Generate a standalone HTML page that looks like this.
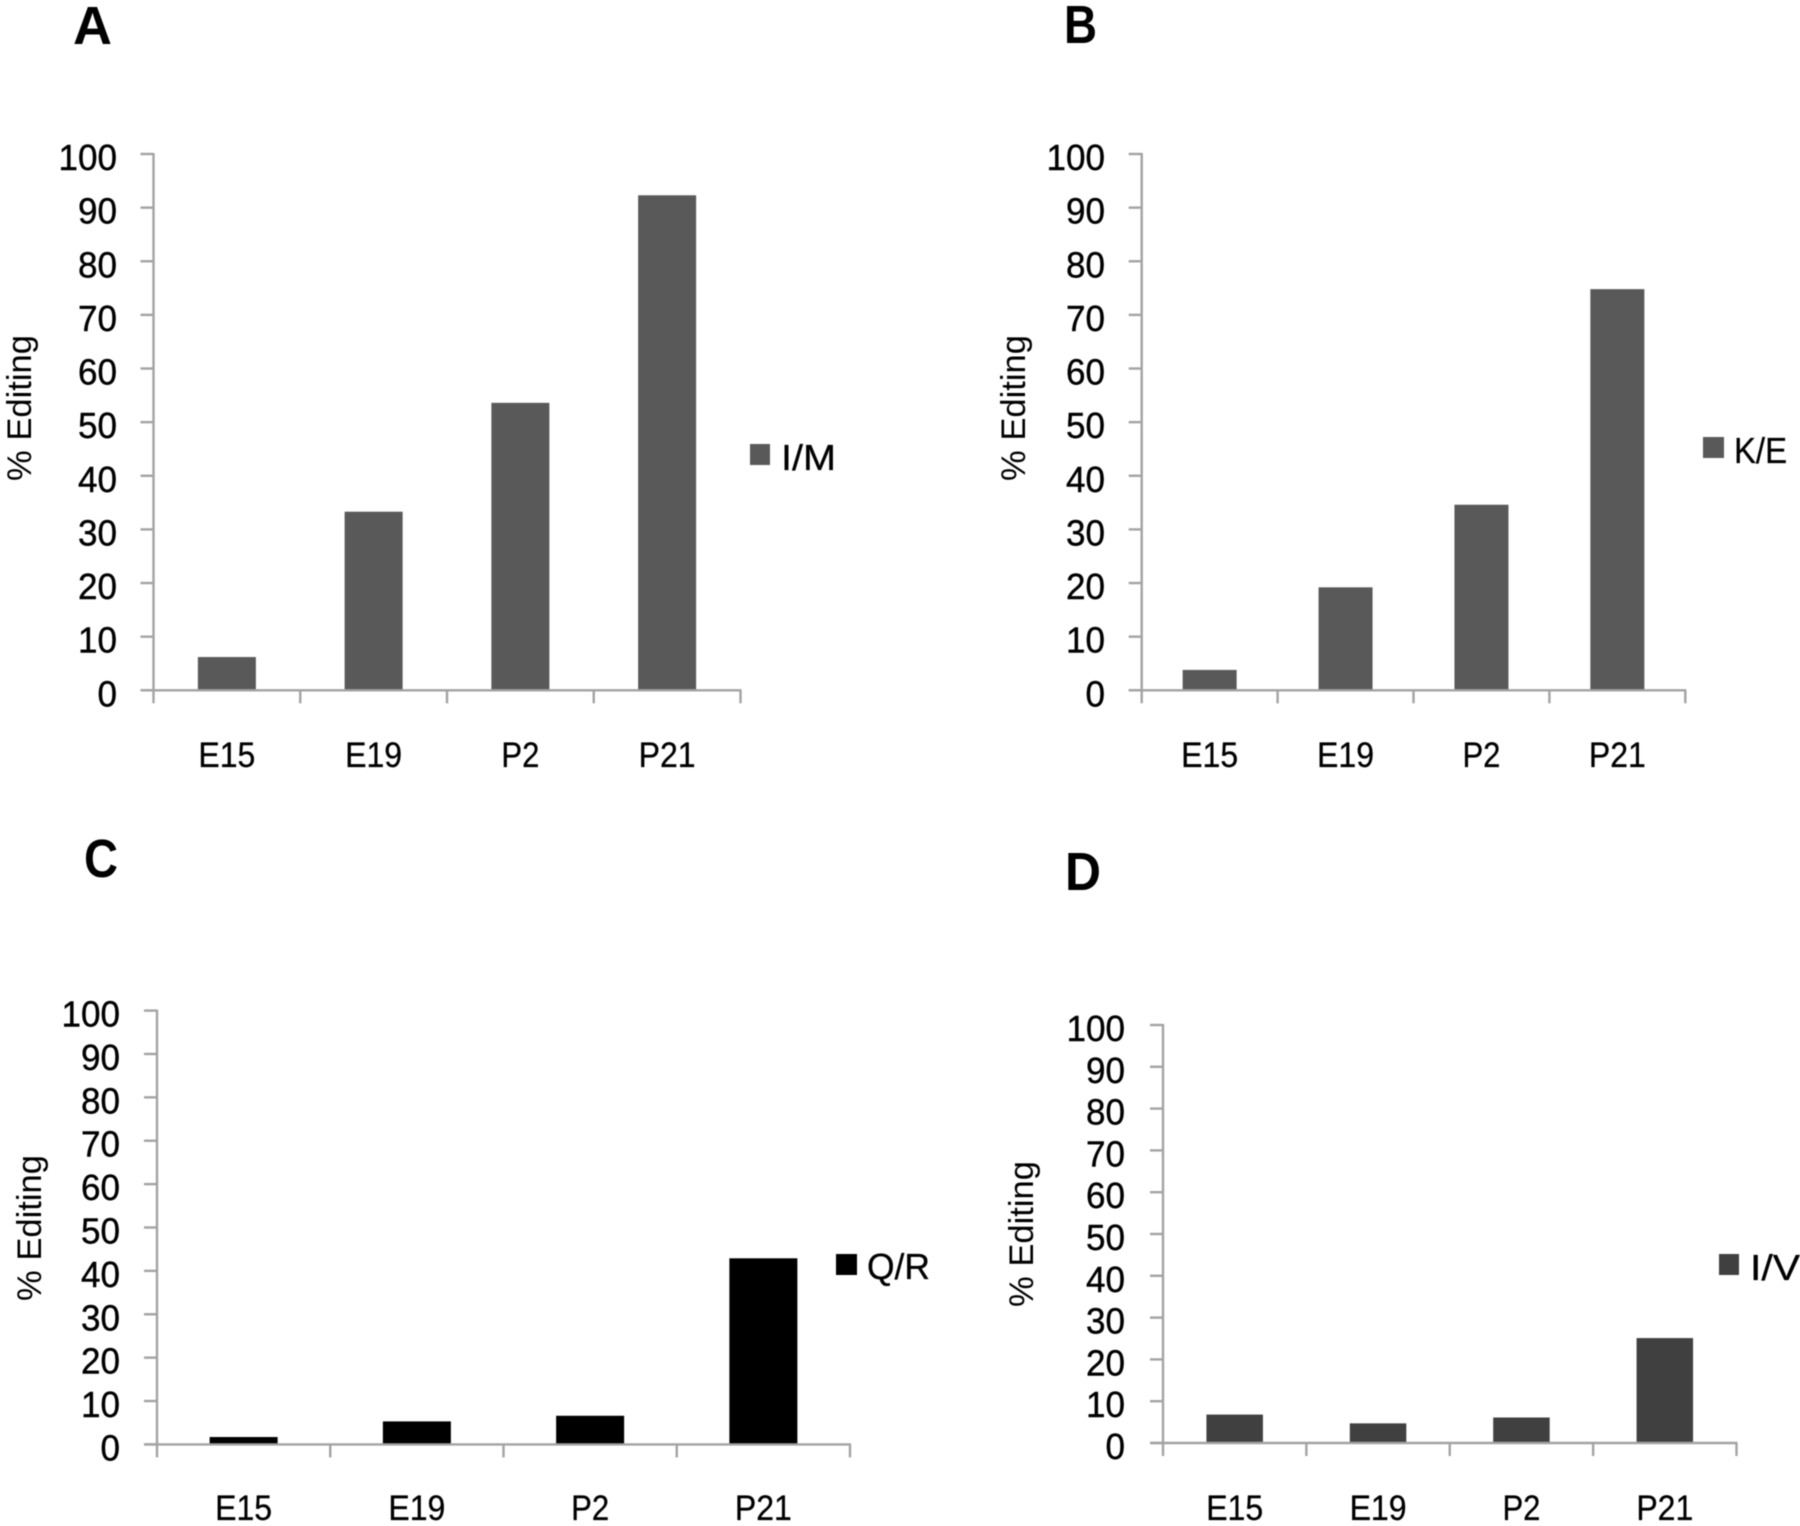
<!DOCTYPE html>
<html lang="en">
<head>
<meta charset="utf-8">
<title>% Editing by developmental stage</title>
<style>
  html, body { margin: 0; padding: 0; background: #fff; }
  svg { display: block; font-family: "Liberation Sans", sans-serif; filter: blur(0.5px); }
  .letter { font-size: 54px; font-weight: bold; fill: #000; }
  .title { font-size: 34px; fill: #000; }
  .legend { font-size: 36px; fill: #000; stroke: #000; stroke-width: 0.3px; }
  .ytick { font-size: 36px; fill: #000; text-anchor: end; stroke: #000; stroke-width: 0.4px; }
  .xtick { font-size: 35px; fill: #000; text-anchor: middle; stroke: #000; stroke-width: 0.3px; }
</style>
</head>
<body>
<svg id="figure" xmlns="http://www.w3.org/2000/svg" width="1800" height="1526" viewBox="0 0 1800 1526">
  <rect width="1800" height="1526" fill="#ffffff"/>

  <g id="panel-a">
    <text class="letter" x="73" y="44">A</text>
    <text class="title" transform="translate(31 408) rotate(-90)" text-anchor="middle" textLength="146" lengthAdjust="spacingAndGlyphs">% Editing</text>
    <rect x="750" y="444" width="20" height="21" fill="#595959"/>
    <text class="legend" x="781" y="470" textLength="55" lengthAdjust="spacingAndGlyphs">I/M</text>
  </g>

  <g id="panel-b">
    <text class="letter" x="1064" y="43" textLength="33" lengthAdjust="spacingAndGlyphs">B</text>
    <text class="title" transform="translate(1025 408) rotate(-90)" text-anchor="middle" textLength="146" lengthAdjust="spacingAndGlyphs">% Editing</text>
    <rect x="1703" y="437" width="21" height="21" fill="#595959"/>
    <text class="legend" x="1734" y="463" textLength="53" lengthAdjust="spacingAndGlyphs">K/E</text>
  </g>

  <g id="panel-c">
    <text class="letter" x="84" y="877" textLength="34" lengthAdjust="spacingAndGlyphs">C</text>
    <text class="title" transform="translate(41 1228) rotate(-90)" text-anchor="middle" textLength="146" lengthAdjust="spacingAndGlyphs">% Editing</text>
    <rect x="836" y="1254" width="21" height="21" fill="#000000"/>
    <text class="legend" x="867" y="1279" textLength="63" lengthAdjust="spacingAndGlyphs">Q/R</text>
  </g>

  <g id="panel-d">
    <text class="letter" x="1065" y="890" textLength="36" lengthAdjust="spacingAndGlyphs">D</text>
    <text class="title" transform="translate(1033 1234) rotate(-90)" text-anchor="middle" textLength="146" lengthAdjust="spacingAndGlyphs">% Editing</text>
    <rect x="1719" y="1254" width="20" height="21" fill="#404040"/>
    <text class="legend" x="1750" y="1280" textLength="50" lengthAdjust="spacingAndGlyphs">I/V</text>
  </g>
</svg>

<script>
const categories = ["E15", "E19", "P2", "P21"];
const yTicks = [0, 10, 20, 30, 40, 50, 60, 70, 80, 90, 100];
const valuesIM = [6.2, 33.3, 53.6, 92.3];
const valuesKE = [3.8, 19.2, 34.6, 74.8];
const valuesQR = [1.7, 5.3, 6.6, 42.9];
const valuesIV = [6.8, 4.7, 6.1, 25.1];

const SVG_NS = "http://www.w3.org/2000/svg";
const AXIS_COLOR = "#a3a3a3";

function makeLine(parent, x1, y1, x2, y2, name) {
  const el = document.createElementNS(SVG_NS, "line");
  el.setAttribute("x1", x1);
  el.setAttribute("y1", y1);
  el.setAttribute("x2", x2);
  el.setAttribute("y2", y2);
  el.setAttribute("stroke", AXIS_COLOR);
  el.setAttribute("stroke-width", 2.4);
  
  
  parent.appendChild(el);
}

function makeText(parent, cls, x, y, content, name, length) {
  const el = document.createElementNS(SVG_NS, "text");
  el.setAttribute("class", cls);
  el.setAttribute("x", x);
  el.setAttribute("y", y);
  el.setAttribute("textLength", length);
  el.setAttribute("lengthAdjust", "spacingAndGlyphs");
  el.textContent = content;
  
  
  parent.appendChild(el);
}

function drawPanel(id, values, color, box) {
  const parent = document.getElementById(id);
  const yScale = function (v) { return box.y0 - (v / 100) * (box.y0 - box.y100); };
  const band = (box.xRight - box.xLeft) / categories.length;
  const xScale = function (i) { return box.xLeft + band * (i + 0.5); };

  values.forEach(function (v, i) {
    const bar = document.createElementNS(SVG_NS, "rect");
    bar.setAttribute("x", xScale(i) - box.barWidth / 2);
    bar.setAttribute("y", yScale(v));
    bar.setAttribute("width", box.barWidth);
    bar.setAttribute("height", yScale(0) - yScale(v));
    bar.setAttribute("fill", color);
    
    
    parent.appendChild(bar);
  });

  makeLine(parent, box.xLeft, yScale(100) - 1, box.xLeft, box.y0 + 13, id + '-y-axis-line');
  makeLine(parent, box.xLeft - 13, box.y0, box.xRight + 1, box.y0, id + '-x-axis-line');

  yTicks.forEach(function (t) {
    makeLine(parent, box.xLeft - 13, yScale(t), box.xLeft, yScale(t), id + '-y-tick-mark-' + t);
    const label = String(t);
    makeText(parent, "ytick", box.labelRight, yScale(t) + 16, label, id + '-y-tick-label-' + t, label.length * 19.5);
  });

  categories.forEach(function (c, i) {
    const tx = box.xLeft + band * (i + 1);
    makeLine(parent, tx, box.y0, tx, box.y0 + 13, id + '-x-tick-mark-' + (i + 1));
    makeText(parent, "xtick", xScale(i), box.labelBaseline, c, id + '-x-tick-label-' + c.toLowerCase(), c.length * 19);
  });
}

drawPanel("panel-a", valuesIM, "#595959", { xLeft: 153.5, xRight: 740.5, y100: 154, y0: 690.3, barWidth: 58, labelRight: 117, labelBaseline: 767 });
drawPanel("panel-b", valuesKE, "#595959", { xLeft: 1141.7, xRight: 1685.3, y100: 154, y0: 690.3, barWidth: 54, labelRight: 1105, labelBaseline: 767 });
drawPanel("panel-c", valuesQR, "#000000", { xLeft: 157, xRight: 850, y100: 1010.6, y0: 1444.4, barWidth: 68, labelRight: 120, labelBaseline: 1520 });
drawPanel("panel-d", valuesIV, "#404040", { xLeft: 1163, xRight: 1736.5, y100: 1025, y0: 1443, barWidth: 56.5, labelRight: 1125, labelBaseline: 1520 });
</script>
</body>
</html>
